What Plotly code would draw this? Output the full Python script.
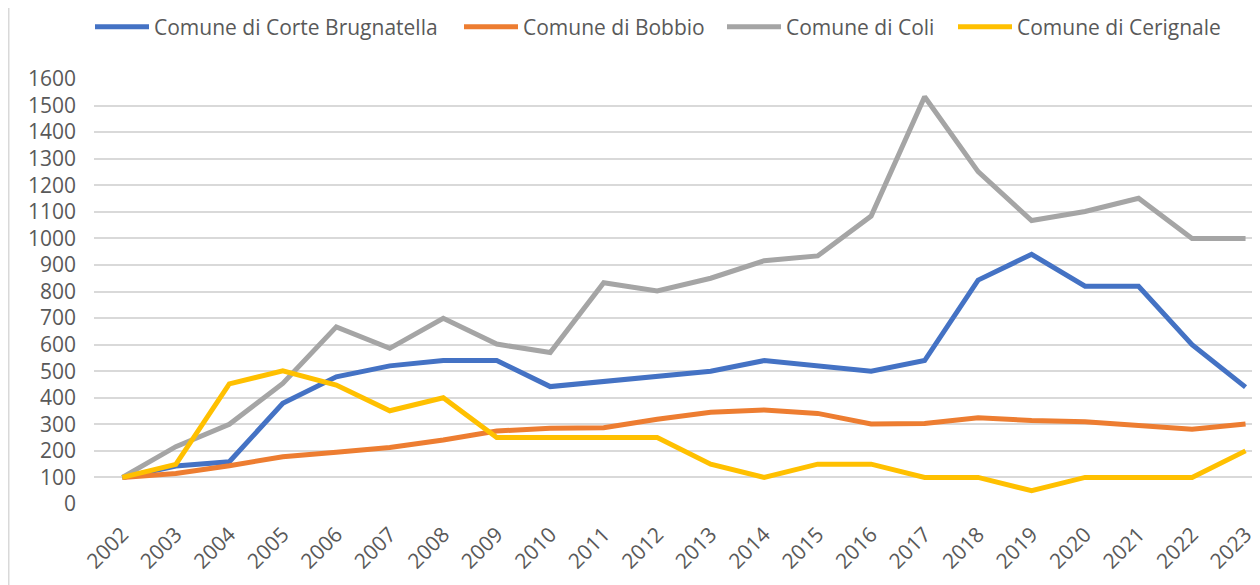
import plotly.graph_objects as go

years = [str(y) for y in range(2002, 2024)]
corte_brugnatella = [100, 143, 159, 379, 479, 520, 540, 540, 442, 460, 480, 500, 540, 520, 500, 540, 843, 940, 820, 820, 600, 440]
bobbio = [100, 115, 144, 178, 195, 213, 241, 275, 285, 287, 319, 345, 354, 341, 301, 303, 325, 314, 310, 297, 281, 301]
coli = [100, 216, 300, 454, 667, 586, 699, 602, 570, 833, 802, 850, 916, 934, 1084, 1533, 1251, 1067, 1101, 1151, 1000, 1000]
cerignale = [100, 149, 452, 501, 448, 351, 400, 250, 250, 250, 250, 150, 100, 150, 150, 100, 100, 50, 100, 100, 100, 200]

series = [
    ("Comune di Corte Brugnatella", corte_brugnatella, "#4472C4", "legend", 82),
    ("Comune di Bobbio", bobbio, "#ED7D31", "legend2", 451),
    ("Comune di Coli", coli, "#A5A5A5", "legend3", 714),
    ("Comune di Cerignale", cerignale, "#FFC000", "legend4", 945),
]

FONT = "Open Sans, Noto Sans, Liberation Sans, Arial, sans-serif"
W, H = 1260, 585
L, T, B = 86, 71, 89
PW, PH = W - L, H - T - B

fig = go.Figure()
legends = {}
for name, vals, col, lg, lx in series:
    fig.add_trace(go.Scatter(x=years, y=vals, name=name, mode="lines", legend=lg,
                             line=dict(color=col, width=5)))
    legends[lg] = dict(orientation="h", xref="container", yref="container",
                       x=lx / W, xanchor="left", y=1 - 19 / H, yanchor="middle",
                       font=dict(family=FONT, size=21, color="#595959"),
                       itemwidth=54, bgcolor="rgba(0,0,0,0)")

fig.update_layout(
    width=W, height=H,
    margin=dict(l=L, r=0, t=T, b=B, autoexpand=False),
    paper_bgcolor="white", plot_bgcolor="white",
    font=dict(family=FONT, size=21, color="#595959"),
    showlegend=True,
    xaxis=dict(type="category", range=[-0.53, 21.42], showgrid=False, zeroline=False,
               showline=False, tickangle=-45, tickfont=dict(size=21, color="#595959"),
               ticks="", ticklabelstandoff=13, automargin=False),
    yaxis=dict(range=[0, 1600], dtick=100, showgrid=True, gridcolor="#D9D9D9", gridwidth=1.5,
               zeroline=False, showline=False, tickfont=dict(size=21, color="#595959"),
               ticks="", ticklabelstandoff=17, automargin=False),
    **legends,
)

fig.add_shape(type="line", xref="paper", yref="paper",
              x0=(0.75 - L) / PW, x1=(0.75 - L) / PW, y0=-B / PH, y1=(PH + T) / PH,
              line=dict(color="#D9D9D9", width=1.5))

fig.write_html("out.html")
